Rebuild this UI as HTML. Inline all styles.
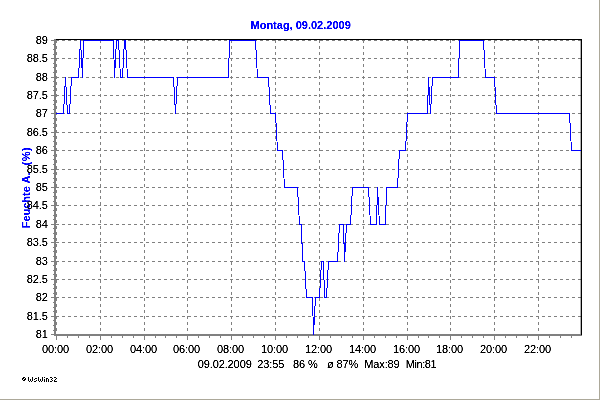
<!DOCTYPE html>
<html><head><meta charset="utf-8"><title>Montag, 09.02.2009</title>
<style>
html,body{margin:0;padding:0;background:#fff;}
body{width:600px;height:400px;overflow:hidden;font-family:"Liberation Sans",sans-serif;}
svg{will-change:transform;display:block;position:absolute;left:0;top:0;}
text{font-family:"Liberation Sans",sans-serif;font-size:11px;fill:#000;letter-spacing:-0.11px;}
.b{letter-spacing:0;}
.b{font-weight:bold;fill:#0000ff;}
</style></head><body>
<svg width="600" height="400" viewBox="0 0 600 400">
<defs><filter id="t" x="0" y="0" width="600" height="400" filterUnits="userSpaceOnUse" color-interpolation-filters="sRGB"><feComponentTransfer><feFuncA type="linear" slope="2" intercept="-0.3"/></feComponentTransfer></filter></defs>
<rect x="0" y="0" width="600" height="400" fill="#ffffff"/>
<g shape-rendering="crispEdges">
<rect x="599" y="0" width="1" height="400" fill="#aca899"/>
<rect x="0" y="399" width="600" height="1" fill="#aca899"/>

<g stroke="#808080" stroke-width="1" stroke-dasharray="3 3" fill="none">
<line x1="56" y1="40.5" x2="582" y2="40.5"/>
<line x1="56" y1="58.5" x2="582" y2="58.5"/>
<line x1="56" y1="77.5" x2="582" y2="77.5"/>
<line x1="56" y1="95.5" x2="582" y2="95.5"/>
<line x1="56" y1="113.5" x2="582" y2="113.5"/>
<line x1="56" y1="132.5" x2="582" y2="132.5"/>
<line x1="56" y1="150.5" x2="582" y2="150.5"/>
<line x1="56" y1="169.5" x2="582" y2="169.5"/>
<line x1="56" y1="187.5" x2="582" y2="187.5"/>
<line x1="56" y1="205.5" x2="582" y2="205.5"/>
<line x1="56" y1="224.5" x2="582" y2="224.5"/>
<line x1="56" y1="242.5" x2="582" y2="242.5"/>
<line x1="56" y1="261.5" x2="582" y2="261.5"/>
<line x1="56" y1="279.5" x2="582" y2="279.5"/>
<line x1="56" y1="297.5" x2="582" y2="297.5"/>
<line x1="56" y1="316.5" x2="582" y2="316.5"/>
<line x1="56.5" y1="40" x2="56.5" y2="334"/>
<line x1="100.5" y1="40" x2="100.5" y2="334"/>
<line x1="144.5" y1="40" x2="144.5" y2="334"/>
<line x1="187.5" y1="40" x2="187.5" y2="334"/>
<line x1="231.5" y1="40" x2="231.5" y2="334"/>
<line x1="275.5" y1="40" x2="275.5" y2="334"/>
<line x1="319.5" y1="40" x2="319.5" y2="334"/>
<line x1="363.5" y1="40" x2="363.5" y2="334"/>
<line x1="407.5" y1="40" x2="407.5" y2="334"/>
<line x1="450.5" y1="40" x2="450.5" y2="334"/>
<line x1="494.5" y1="40" x2="494.5" y2="334"/>
<line x1="538.5" y1="40" x2="538.5" y2="334"/>
</g>
<rect x="54" y="39" width="2" height="297" fill="#808080"/>
<rect x="54" y="334" width="528" height="2" fill="#808080"/>
<rect x="56" y="39" width="526" height="1" fill="#000"/>
<rect x="581" y="39" width="1" height="296" fill="#000"/>
<rect x="580" y="40" width="1" height="294" fill="#000" fill-opacity="0.3"/>
<g fill="#808080">
<rect x="51" y="40" width="3" height="1"/>
<rect x="53" y="44" width="1" height="1"/>
<rect x="53" y="49" width="1" height="1"/>
<rect x="53" y="54" width="1" height="1"/>
<rect x="51" y="58" width="3" height="1"/>
<rect x="53" y="63" width="1" height="1"/>
<rect x="53" y="67" width="1" height="1"/>
<rect x="53" y="72" width="1" height="1"/>
<rect x="51" y="77" width="3" height="1"/>
<rect x="53" y="81" width="1" height="1"/>
<rect x="53" y="86" width="1" height="1"/>
<rect x="53" y="90" width="1" height="1"/>
<rect x="51" y="95" width="3" height="1"/>
<rect x="53" y="100" width="1" height="1"/>
<rect x="53" y="104" width="1" height="1"/>
<rect x="53" y="109" width="1" height="1"/>
<rect x="51" y="113" width="3" height="1"/>
<rect x="53" y="118" width="1" height="1"/>
<rect x="53" y="123" width="1" height="1"/>
<rect x="53" y="127" width="1" height="1"/>
<rect x="51" y="132" width="3" height="1"/>
<rect x="53" y="136" width="1" height="1"/>
<rect x="53" y="141" width="1" height="1"/>
<rect x="53" y="146" width="1" height="1"/>
<rect x="51" y="150" width="3" height="1"/>
<rect x="53" y="155" width="1" height="1"/>
<rect x="53" y="159" width="1" height="1"/>
<rect x="53" y="164" width="1" height="1"/>
<rect x="51" y="169" width="3" height="1"/>
<rect x="53" y="173" width="1" height="1"/>
<rect x="53" y="178" width="1" height="1"/>
<rect x="53" y="182" width="1" height="1"/>
<rect x="51" y="187" width="3" height="1"/>
<rect x="53" y="192" width="1" height="1"/>
<rect x="53" y="196" width="1" height="1"/>
<rect x="53" y="201" width="1" height="1"/>
<rect x="51" y="205" width="3" height="1"/>
<rect x="53" y="210" width="1" height="1"/>
<rect x="53" y="215" width="1" height="1"/>
<rect x="53" y="219" width="1" height="1"/>
<rect x="51" y="224" width="3" height="1"/>
<rect x="53" y="228" width="1" height="1"/>
<rect x="53" y="233" width="1" height="1"/>
<rect x="53" y="238" width="1" height="1"/>
<rect x="51" y="242" width="3" height="1"/>
<rect x="53" y="247" width="1" height="1"/>
<rect x="53" y="251" width="1" height="1"/>
<rect x="53" y="256" width="1" height="1"/>
<rect x="51" y="261" width="3" height="1"/>
<rect x="53" y="265" width="1" height="1"/>
<rect x="53" y="270" width="1" height="1"/>
<rect x="53" y="274" width="1" height="1"/>
<rect x="51" y="279" width="3" height="1"/>
<rect x="53" y="284" width="1" height="1"/>
<rect x="53" y="288" width="1" height="1"/>
<rect x="53" y="293" width="1" height="1"/>
<rect x="51" y="297" width="3" height="1"/>
<rect x="53" y="302" width="1" height="1"/>
<rect x="53" y="307" width="1" height="1"/>
<rect x="53" y="311" width="1" height="1"/>
<rect x="51" y="316" width="3" height="1"/>
<rect x="53" y="320" width="1" height="1"/>
<rect x="53" y="325" width="1" height="1"/>
<rect x="53" y="330" width="1" height="1"/>
<rect x="51" y="334" width="3" height="1"/>
<rect x="56" y="336" width="1" height="4"/>
<rect x="67" y="336" width="1" height="2"/>
<rect x="78" y="336" width="1" height="2"/>
<rect x="89" y="336" width="1" height="2"/>
<rect x="100" y="336" width="1" height="4"/>
<rect x="111" y="336" width="1" height="2"/>
<rect x="122" y="336" width="1" height="2"/>
<rect x="133" y="336" width="1" height="2"/>
<rect x="144" y="336" width="1" height="4"/>
<rect x="155" y="336" width="1" height="2"/>
<rect x="165" y="336" width="1" height="2"/>
<rect x="176" y="336" width="1" height="2"/>
<rect x="187" y="336" width="1" height="4"/>
<rect x="198" y="336" width="1" height="2"/>
<rect x="209" y="336" width="1" height="2"/>
<rect x="220" y="336" width="1" height="2"/>
<rect x="231" y="336" width="1" height="4"/>
<rect x="242" y="336" width="1" height="2"/>
<rect x="253" y="336" width="1" height="2"/>
<rect x="264" y="336" width="1" height="2"/>
<rect x="275" y="336" width="1" height="4"/>
<rect x="286" y="336" width="1" height="2"/>
<rect x="297" y="336" width="1" height="2"/>
<rect x="308" y="336" width="1" height="2"/>
<rect x="319" y="336" width="1" height="4"/>
<rect x="330" y="336" width="1" height="2"/>
<rect x="341" y="336" width="1" height="2"/>
<rect x="352" y="336" width="1" height="2"/>
<rect x="363" y="336" width="1" height="4"/>
<rect x="374" y="336" width="1" height="2"/>
<rect x="385" y="336" width="1" height="2"/>
<rect x="396" y="336" width="1" height="2"/>
<rect x="407" y="336" width="1" height="4"/>
<rect x="418" y="336" width="1" height="2"/>
<rect x="428" y="336" width="1" height="2"/>
<rect x="439" y="336" width="1" height="2"/>
<rect x="450" y="336" width="1" height="4"/>
<rect x="461" y="336" width="1" height="2"/>
<rect x="472" y="336" width="1" height="2"/>
<rect x="483" y="336" width="1" height="2"/>
<rect x="494" y="336" width="1" height="4"/>
<rect x="505" y="336" width="1" height="2"/>
<rect x="516" y="336" width="1" height="2"/>
<rect x="527" y="336" width="1" height="2"/>
<rect x="538" y="336" width="1" height="4"/>
<rect x="549" y="336" width="1" height="2"/>
<rect x="560" y="336" width="1" height="2"/>
<rect x="571" y="336" width="1" height="2"/>
</g>
<polyline points="56.5,113.5 63.5,113.5 65.5,77.5 67.5,113.5 69.5,113.5 71.5,77.5 78.5,77.5 80.5,40.5 82.5,77.5 83.5,40.5 113.5,40.5 114.5,77.5 116.5,40.5 118.5,40.5 120.5,77.5 122.5,77.5 124.5,40.5 125.5,40.5 127.5,77.5 173.5,77.5 175.5,113.5 177.5,77.5 228.5,77.5 229.5,40.5 255.5,40.5 257.5,77.5 268.5,77.5 270.5,113.5 275.5,113.5 277.5,150.5 282.5,150.5 284.5,187.5 297.5,187.5 299.5,224.5 301.5,224.5 302.5,261.5 304.5,261.5 306.5,297.5 312.5,297.5 313.5,334.5 315.5,297.5 319.5,297.5 321.5,261.5 323.5,261.5 324.5,297.5 326.5,297.5 328.5,261.5 337.5,261.5 339.5,224.5 343.5,224.5 344.5,261.5 346.5,224.5 350.5,224.5 352.5,187.5 368.5,187.5 370.5,224.5 376.5,224.5 377.5,187.5 379.5,224.5 385.5,224.5 386.5,187.5 397.5,187.5 399.5,150.5 405.5,150.5 407.5,113.5 427.5,113.5 428.5,77.5 430.5,113.5 432.5,77.5 458.5,77.5 459.5,40.5 483.5,40.5 485.5,77.5 494.5,77.5 496.5,113.5 569.5,113.5 571.5,150.5 580.5,150.5" fill="none" stroke="#0000ff" stroke-width="1" stroke-linejoin="bevel" stroke-linecap="square"/>
</g>
<g filter="url(#t)">
<text class="b" x="250.5" y="29">Montag, 09.02.2009</text>
<text class="b" transform="translate(30,228.3) rotate(-90)">Feuchte A.</text>
<text class="b" transform="translate(30,165.6) rotate(-90)" style="letter-spacing:0.6px">(%)</text>
<text x="47.7" y="44" text-anchor="end">89</text>
<text x="47.7" y="62" text-anchor="end">88.5</text>
<text x="47.7" y="81" text-anchor="end">88</text>
<text x="47.7" y="99" text-anchor="end">87.5</text>
<text x="47.7" y="117" text-anchor="end">87</text>
<text x="47.7" y="136" text-anchor="end">86.5</text>
<text x="47.7" y="154" text-anchor="end">86</text>
<text x="47.7" y="173" text-anchor="end">85.5</text>
<text x="47.7" y="191" text-anchor="end">85</text>
<text x="47.7" y="209" text-anchor="end">84.5</text>
<text x="47.7" y="228" text-anchor="end">84</text>
<text x="47.7" y="246" text-anchor="end">83.5</text>
<text x="47.7" y="265" text-anchor="end">83</text>
<text x="47.7" y="283" text-anchor="end">82.5</text>
<text x="47.7" y="301" text-anchor="end">82</text>
<text x="47.7" y="320" text-anchor="end">81.5</text>
<text x="47.7" y="338" text-anchor="end">81</text>
<text x="55.5" y="353" text-anchor="middle">00:00</text>
<text x="99.5" y="353" text-anchor="middle">02:00</text>
<text x="143.5" y="353" text-anchor="middle">04:00</text>
<text x="186.5" y="353" text-anchor="middle">06:00</text>
<text x="230.5" y="353" text-anchor="middle">08:00</text>
<text x="274.5" y="353" text-anchor="middle">10:00</text>
<text x="318.5" y="353" text-anchor="middle">12:00</text>
<text x="362.5" y="353" text-anchor="middle">14:00</text>
<text x="406.5" y="353" text-anchor="middle">16:00</text>
<text x="449.5" y="353" text-anchor="middle">18:00</text>
<text x="493.5" y="353" text-anchor="middle">20:00</text>
<text x="537.5" y="353" text-anchor="middle">22:00</text>
<text x="197.7" y="368">09.02.2009</text>
<text x="257.3" y="368">23:55</text>
<text x="293.1" y="368">86 %</text>
<text x="327" y="368">ø</text>
<text x="336.5" y="368">87%</text>
<text x="364.2" y="368">Max:89</text>
<text x="405.8" y="368" style="letter-spacing:-0.45px">Min:81</text>
</g>
<path shape-rendering="crispEdges" fill="#000" d="M23 377h1v1h-1zM24 377h1v1h-1zM22 378h1v1h-1zM23 378h1v1h-1zM25 378h1v1h-1zM22 379h1v1h-1zM24 379h1v1h-1zM25 379h1v1h-1zM23 380h1v1h-1zM24 380h1v1h-1zM28 377h1v1h-1zM32 377h1v1h-1zM28 378h1v1h-1zM32 378h1v1h-1zM28 379h1v1h-1zM30 379h1v1h-1zM32 379h1v1h-1zM28 380h1v1h-1zM30 380h1v1h-1zM32 380h1v1h-1zM29 381h1v1h-1zM31 381h1v1h-1zM35 378h1v1h-1zM36 378h1v1h-1zM34 379h1v1h-1zM36 380h1v1h-1zM34 381h1v1h-1zM35 381h1v1h-1zM38 377h1v1h-1zM42 377h1v1h-1zM38 378h1v1h-1zM42 378h1v1h-1zM38 379h1v1h-1zM40 379h1v1h-1zM42 379h1v1h-1zM38 380h1v1h-1zM40 380h1v1h-1zM42 380h1v1h-1zM39 381h1v1h-1zM41 381h1v1h-1zM44 377h1v1h-1zM44 379h1v1h-1zM44 380h1v1h-1zM44 381h1v1h-1zM46 378h1v1h-1zM47 378h1v1h-1zM46 379h1v1h-1zM48 379h1v1h-1zM46 380h1v1h-1zM48 380h1v1h-1zM46 381h1v1h-1zM48 381h1v1h-1zM50 377h1v1h-1zM51 377h1v1h-1zM52 378h1v1h-1zM51 379h1v1h-1zM52 380h1v1h-1zM50 381h1v1h-1zM51 381h1v1h-1zM54 377h1v1h-1zM55 377h1v1h-1zM56 378h1v1h-1zM55 379h1v1h-1zM54 380h1v1h-1zM54 381h1v1h-1zM55 381h1v1h-1zM56 381h1v1h-1z"/>
</svg></body></html>
